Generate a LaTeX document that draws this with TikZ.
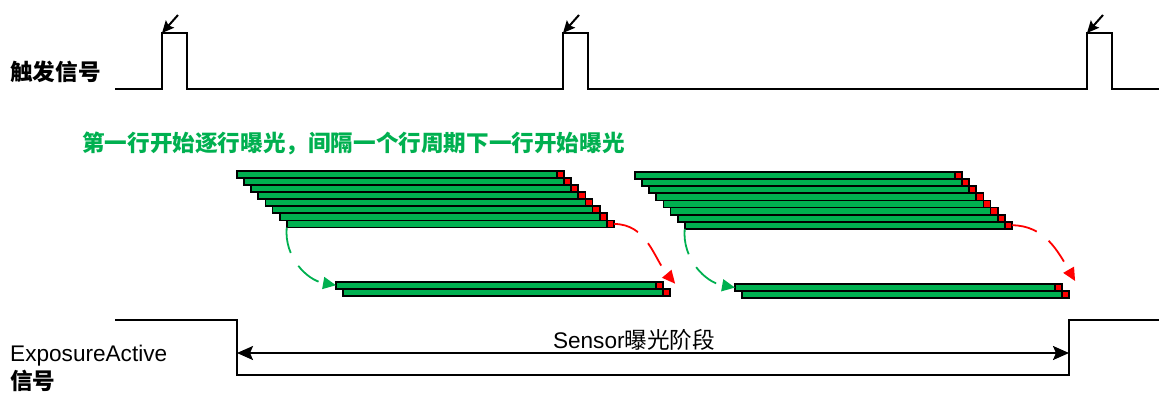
\documentclass[tikz,border=0pt]{standalone}
\usepackage{fontspec}
\setmainfont{Liberation Sans}
\newfontfamily\cjk{Noto Sans CJK SC}
\usetikzlibrary{positioning,arrows.meta}
\definecolor{barGreen}{RGB}{0,176,80}

\begin{document}
\begin{tikzpicture}[
    x=1pt, y=-1pt,
    >=Latex,
    sig/.style={line width=2pt},
    bar/.style={draw, line width=1.8pt, fill=barGreen, inner sep=0pt, outer sep=0pt,
      minimum width=320pt, minimum height=7.1pt, anchor=north west},
    endsq/.style={draw, line width=1.8pt, fill=red, inner sep=0pt, outer sep=0pt,
      minimum width=7.1pt, minimum height=7.1pt},
    txt/.style={font=\fontsize{22.6}{27}\selectfont, inner sep=0pt},
    cjktxt/.style={font=\cjk\bfseries\fontsize{22.6}{27}\selectfont, inner sep=0pt},
    flow/.style={line width=1.8pt, dash pattern=on 26pt off 15pt,
      -{Triangle[length=13pt,width=12pt]}},
    trig/.style={line width=2pt, -{Stealth[length=12pt,width=11pt,inset=2pt]}},
    span/.style={line width=2pt, {Stealth[length=16pt,width=14pt,inset=3pt]}-{Stealth[length=16pt,width=14pt,inset=3pt]}}
  ]
  \useasboundingbox (0,0) rectangle (1159,392);

  % etichette
  \node[cjktxt, anchor=base west] (trigLabel) at (10,80) {触发信号};
  \node[cjktxt, text=barGreen, anchor=base west] (note) at (82,151)
    {第一行开始逐行曝光，间隔一个行周期下一行开始曝光};
  \node[txt, anchor=base west] (eaLabel) at (10,361) {ExposureActive};
  \node[cjktxt, anchor=base west] (eaLabel2) at (10,389) {信号};

  % segnale di trigger
  \draw[sig] (115,89) -- (162,89) -- (162,33) -- (187,33) -- (187,89)
    -- (563,89) -- (563,33) -- (588,33) -- (588,89)
    -- (1087,89) -- (1087,33) -- (1112,33) -- (1112,89) -- (1159,89);
  \foreach \p [count=\k] in {162,563,1087} {
    \coordinate (t\k) at (\p,33);
    \draw[trig] ([shift={(16,-18)}]t\k) -- (t\k);
  }

  % righe esposte
  \foreach \i in {1,...,8} {
    \node[bar] (a\i) at ({237+(\i-1)*7.1},{170.7+(\i-1)*7.1}) {};
    \node[endsq, right=0pt of a\i] (ar\i) {};
    \node[bar] (b\i) at ({635+(\i-1)*7.1},{172+(\i-1)*7.1}) {};
    \node[endsq, right=0pt of b\i] (br\i) {};
  }
  \foreach \i in {1,2} {
    \node[bar] (la\i) at ({336+(\i-1)*7.1},{281.7+(\i-1)*7.1}) {};
    \node[endsq, right=0pt of la\i] (lar\i) {};
    \node[bar] (lb\i) at ({735+(\i-1)*7.1},{284+(\i-1)*7.1}) {};
    \node[endsq, right=0pt of lb\i] (lbr\i) {};
  }

  % frecce tratteggiate
  \coordinate (redEndA) at ([shift={(12,2)}]lar1.north east);
  \coordinate (redEndB) at ([shift={(13,-3)}]lbr1.north east);
  \draw[flow, barGreen] (a8.south west) to[out=-95, in=170] (la1.west);
  \draw[flow, barGreen] (b8.south west) to[out=-95, in=170] (lb1.west);
  \draw[flow, red] (ar8.east) to[out=0, in=130] (redEndA);
  \draw[flow, red] (br8.east) to[out=0, in=120] (redEndB);

  % segnale ExposureActive
  \draw[sig] (115,320) -- (237,320) -- (237,375) -- (1069,375) -- (1069,320) -- (1159,320);
  \coordinate (eL) at (237,353);
  \coordinate (eR) at (1069,353);
  \draw[span] (eL) -- (eR);
  \node[txt, anchor=base] (phase) at (634,348) {Sensor{\cjk 曝光阶段}};

\end{tikzpicture}
\end{document}
